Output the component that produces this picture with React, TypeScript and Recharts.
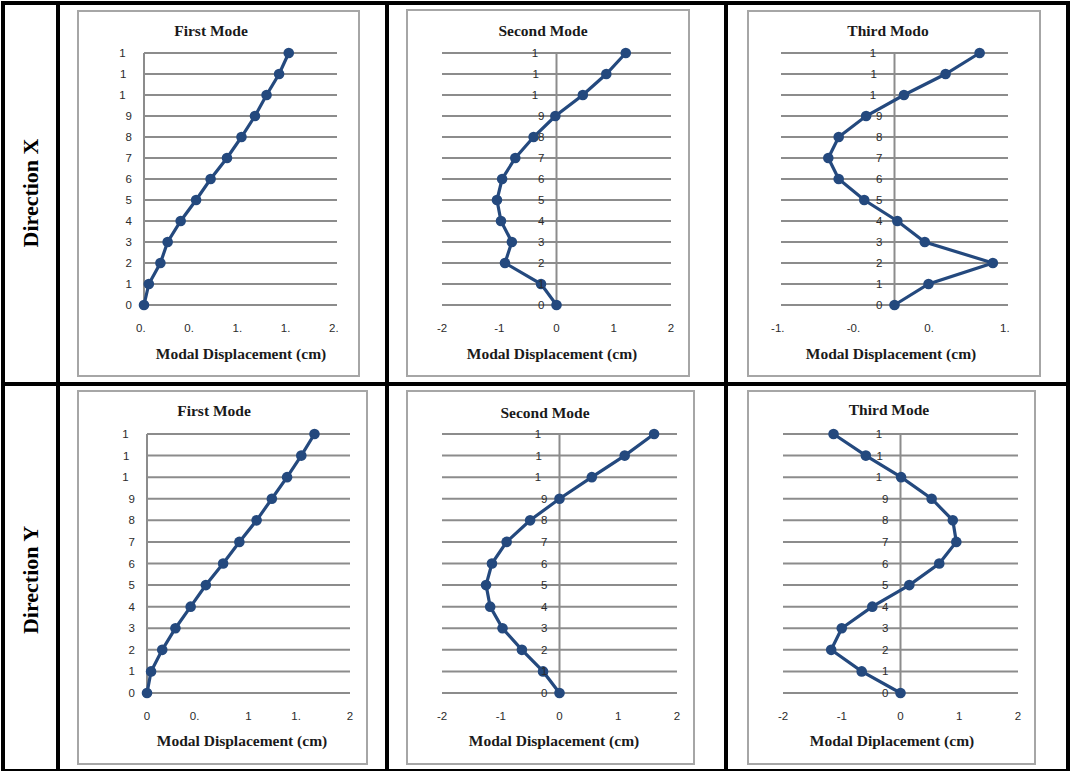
import React from 'react'
import { ScatterChart, Scatter, XAxis, YAxis, CartesianGrid, ReferenceLine } from 'recharts'

// storeys (vertical axis) and their labels; Excel clipped 10-12 down to "1"
const floors = [0, 1, 2, 3, 4, 5, 6, 7, 8, 9, 10, 11, 12]
const floorLabels = ['0', '1', '2', '3', '4', '5', '6', '7', '8', '9', '10', '11', '12']
const floorShown = ['0', '1', '2', '3', '4', '5', '6', '7', '8', '9', '1', '1', '1']

// modal displacement (cm), floor 0 -> 12
const dirXFirst = [0, 0.05, 0.17, 0.245, 0.38, 0.54, 0.69, 0.86, 1.01, 1.15, 1.27, 1.4, 1.5]
const dirXSecond = [0, -0.27, -0.9, -0.78, -0.97, -1.04, -0.95, -0.72, -0.4, -0.02, 0.46, 0.87, 1.21]
const dirXThird = [0, 0.36, 1.04, 0.32, 0.03, -0.32, -0.59, -0.7, -0.59, -0.3, 0.1, 0.54, 0.9]
const dirYFirst = [0, 0.04, 0.15, 0.28, 0.43, 0.58, 0.75, 0.91, 1.08, 1.23, 1.38, 1.52, 1.65]
const dirYSecond = [0, -0.28, -0.64, -0.97, -1.18, -1.25, -1.15, -0.9, -0.5, 0, 0.55, 1.11, 1.61]
const dirYThird = [0, -0.66, -1.18, -1.0, -0.48, 0.15, 0.66, 0.95, 0.89, 0.53, 0.01, -0.59, -1.14]

// x tick values, full label text, and the part left visible after clipping
const ticksX1 = [0, 0.5, 1, 1.5, 2]
const labelsX1 = ['0.0', '0.5', '1.0', '1.5', '2.0']
const shownX1 = ['0.', '0.', '1.', '1.', '2.']
const ticksX3 = [-1.2, -0.4, 0.4, 1.2]
const labelsX3 = ['-1.2', '-0.4', '0.4', '1.2']
const shownX3 = ['-1.', '-0.', '0.', '1.']
const ticksSym = [-2, -1, 0, 1, 2]
const labelsSym = ['-2', '-1', '0', '1', '2']
const ticksY1 = [0, 0.5, 1, 1.5, 2]
const labelsY1 = ['0', '0.5', '1', '1.5', '2']
const shownY1 = ['0', '0.', '1', '1.', '2']

const LINE = '#24497e'
const GRID = '#8c8c8c'
const TICK_FONT = '"Liberation Sans", Arial, sans-serif'
const SERIF = '"Liberation Serif", "Times New Roman", serif'

const charts = [
  {
    title: 'First Mode', xLabel: 'Modal Displacement (cm)', values: dirXFirst,
    domain: [0, 2], ticks: ticksX1, labels: labelsX1, shown: shownX1, axisAtZero: false,
    frame: { x: 77, y: 10, w: 283, h: 367 }, plot: { l: 144, t: 53, r: 337, b: 305 },
    titleX: 211, titleY: 31, xLabelX: 241, xLabelY: 354,
  },
  {
    title: 'Second Mode', xLabel: 'Modal Displacement (cm)', values: dirXSecond,
    domain: [-2, 2], ticks: ticksSym, labels: labelsSym, shown: labelsSym, axisAtZero: true,
    frame: { x: 406, y: 9, w: 284, h: 368 }, plot: { l: 442, t: 53, r: 671, b: 305 },
    titleX: 543, titleY: 31, xLabelX: 552, xLabelY: 354,
  },
  {
    title: 'Third Modo', xLabel: 'Modal Displacement (cm)', values: dirXThird,
    domain: [-1.2, 1.2], ticks: ticksX3, labels: labelsX3, shown: shownX3, axisAtZero: true,
    frame: { x: 747, y: 10, w: 294, h: 367 }, plot: { l: 781, t: 53, r: 1008, b: 305 },
    titleX: 888, titleY: 31, xLabelX: 891, xLabelY: 354,
  },
  {
    title: 'First Mode', xLabel: 'Modal Displacement (cm)', values: dirYFirst,
    domain: [0, 2], ticks: ticksY1, labels: labelsY1, shown: shownY1, axisAtZero: false,
    frame: { x: 77, y: 390, w: 291, h: 375 }, plot: { l: 147, t: 434, r: 350, b: 693 },
    titleX: 214, titleY: 411, xLabelX: 242, xLabelY: 741,
  },
  {
    title: 'Second Mode', xLabel: 'Modal Displacement (cm)', values: dirYSecond,
    domain: [-2, 2], ticks: ticksSym, labels: labelsSym, shown: labelsSym, axisAtZero: true,
    frame: { x: 406, y: 390, w: 289, h: 375 }, plot: { l: 442, t: 434, r: 677, b: 693 },
    titleX: 545, titleY: 413, xLabelX: 554, xLabelY: 741,
  },
  {
    title: 'Third Mode', xLabel: 'Modal Diplacement (cm)', values: dirYThird,
    domain: [-2, 2], ticks: ticksSym, labels: labelsSym, shown: labelsSym, axisAtZero: true,
    frame: { x: 747, y: 390, w: 289, h: 375 }, plot: { l: 783, t: 434, r: 1018, b: 693 },
    titleX: 889, titleY: 410, xLabelX: 892, xLabelY: 741,
  },
]

// text where only the first part is visible, the rest keeps its width but is invisible
function ClippedText({ x, y, anchor, full, shown }: any) {
  return (
    <text x={x} y={y} textAnchor={anchor} dominantBaseline="central"
      fontFamily={TICK_FONT} fontSize={11.5} fill="#2b2b2b">
      <tspan>{shown}</tspan>
      <tspan fill="transparent">{full.slice(shown.length)}</tspan>
    </text>
  )
}

const Y_AXIS_W = 30
const X_AXIS_H = 30

function ModeChart({ c }: any) {
  const { frame, plot } = c
  const left = frame.x + 2
  const top = frame.y + 2
  const w = frame.w - 4
  const h = frame.h - 4
  const shiftToZero = c.axisAtZero
    ? ((0 - c.domain[0]) / (c.domain[1] - c.domain[0])) * (plot.r - plot.l)
    : 0
  const points = floors.map((f, i) => ({ x: c.values[i], y: f }))
  const textStyle: React.CSSProperties = {
    position: 'absolute', transform: 'translate(-50%, -50%)',
    fontFamily: SERIF, fontWeight: 'bold', fontSize: 15.5, color: '#1a1a1a', whiteSpace: 'nowrap',
  }

  return (
    <>
      <div style={{
        position: 'absolute', left: frame.x, top: frame.y, width: frame.w, height: frame.h,
        border: '2px solid #a6a6a6', boxSizing: 'border-box', background: '#fff',
      }}>
        <ScatterChart
          width={w}
          height={h}
          margin={{
            left: plot.l - left - Y_AXIS_W,
            top: plot.t - top,
            right: left + w - plot.r,
            bottom: top + h - plot.b - X_AXIS_H,
          }}
          style={{ overflow: 'visible' }}
        >
          <CartesianGrid vertical={false} stroke={GRID} strokeWidth={2} />
          <XAxis
            type="number" dataKey="x" domain={c.domain} ticks={c.ticks} height={X_AXIS_H}
            axisLine={false} tickLine={false} tickSize={0} tickMargin={0} interval={0}
            tick={(p: any) => (
              <ClippedText x={p.x} y={p.y + 23} anchor="middle"
                full={c.labels[p.index]} shown={c.shown[p.index]} />
            )}
          />
          <YAxis
            type="number" dataKey="y" domain={[0, 12]} ticks={floors} width={Y_AXIS_W}
            axisLine={c.axisAtZero ? false : { stroke: GRID, strokeWidth: 2 }}
            tickLine={false} tickSize={0} tickMargin={12} interval={0}
            tick={(p: any) => (
              <ClippedText x={p.x + shiftToZero} y={p.y} anchor="end"
                full={floorLabels[p.index]} shown={floorShown[p.index]} />
            )}
          />
          {c.axisAtZero && <ReferenceLine x={0} stroke={GRID} strokeWidth={2} />}
          <Scatter
            data={points}
            fill={LINE}
            line={{ stroke: LINE, strokeWidth: 3.2 }}
            lineType="joint"
            isAnimationActive={false}
            shape={(p: any) => <circle cx={p.cx} cy={p.cy} r={5.3} fill={LINE} />}
          />
        </ScatterChart>
      </div>
      <div style={{ ...textStyle, left: c.titleX, top: c.titleY }}>{c.title}</div>
      <div style={{ ...textStyle, left: c.xLabelX, top: c.xLabelY }}>{c.xLabel}</div>
    </>
  )
}

const rules = [
  { x: 1, y: 1, w: 1069, h: 4 },
  { x: 1, y: 382, w: 1069, h: 4 },
  { x: 1, y: 769, w: 1069, h: 2 },
  { x: 1, y: 1, w: 4, h: 770 },
  { x: 56, y: 1, w: 4, h: 770 },
  { x: 385, y: 1, w: 4, h: 770 },
  { x: 724, y: 1, w: 4, h: 770 },
  { x: 1066, y: 1, w: 4, h: 770 },
]

export default function App() {
  return (
    <div style={{ position: 'absolute', left: 0, top: 0, width: 1070, height: 771, background: '#fff', overflow: 'hidden' }}>
      {charts.map((c, i) => <ModeChart key={i} c={c} />)}
      {rules.map((r, i) => (
        <div key={i} style={{ position: 'absolute', left: r.x, top: r.y, width: r.w, height: r.h, background: '#000' }} />
      ))}
      {[{ t: 'Direction X', y: 193 }, { t: 'Direction Y', y: 580 }].map((d) => (
        <div key={d.t} style={{
          position: 'absolute', left: 31, top: d.y, transform: 'translate(-50%, -50%) rotate(-90deg)',
          fontFamily: SERIF, fontWeight: 'bold', fontSize: 22, whiteSpace: 'nowrap', color: '#000',
        }}>{d.t}</div>
      ))}
    </div>
  )
}
